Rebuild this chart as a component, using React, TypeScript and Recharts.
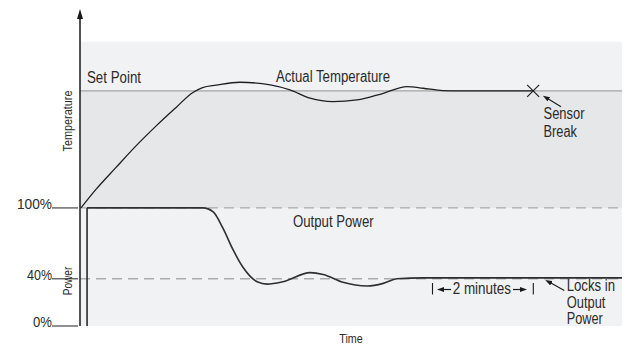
import React from 'react';
import { ComposedChart, Line, XAxis, YAxis, ReferenceArea, ReferenceLine, ReferenceDot } from 'recharts';

// time axis is in minutes from power-on
const tempTimes = [0.02, 0.32, 0.71, 1.11, 1.51, 1.9, 2.23, 2.43, 2.7, 3.17, 3.77, 4.16, 4.56, 5.01, 5.49, 6.01, 6.48, 6.8, 7.19, 7.53, 8.98];
// actual temperature, % of set point
const tempValues = [0, 16, 34.4, 53, 70.1, 85.7, 98.5, 102.8, 104.9, 107.4, 105.1, 100.9, 93.8, 90.9, 92.3, 98, 103.7, 102.3, 100.3, 100, 100];

const powerTimes = [0.14, 2.44, 2.64, 2.83, 3.03, 3.23, 3.51, 3.71, 4.02, 4.56, 4.82, 5.21, 5.69, 6.01, 6.28, 6.8, 10.74];
// output power, %
const powerValues = [100, 100, 96.6, 83, 64.8, 49.7, 37.5, 35.5, 37.5, 45.2, 43.6, 37, 33.9, 36.1, 40, 40.8, 40.8];

const switchOnTimes = [0.14, 0.14];
const switchOnValues = [0, 100];

const powerTicks = [0, 40, 100];
const setPoint = 100;
const fullPower = 100;
const lockedPower = 40;
const sensorBreakTime = 8.98;
const plotEnd = 10.74;

const tempData = tempTimes.map((t, i) => ({ t, temp: tempValues[i] }));
const powerData = powerTimes.map((t, i) => ({ t, power: powerValues[i] }));
const switchOnData = switchOnTimes.map((t, i) => ({ t, power: switchOnValues[i] }));

const FONT = "'Liberation Sans', Arial, sans-serif";
const INK = '#2b2b2b';

const tickWidths: Record<number, number> = { 0: 19, 40: 25, 100: 35 };

const PowerTick = ({ x, y, payload }: any) => (
  <g>
    <line x1={x - 28} x2={x - 2} y1={y} y2={y} stroke="#555" strokeWidth={1.3} />
    <text
      x={x - 28}
      y={y + 1}
      textAnchor="end"
      fontSize={15}
      fill={INK}
      fontFamily={FONT}
      textLength={tickWidths[payload.value]}
      lengthAdjust="spacingAndGlyphs"
    >
      {`${payload.value}%`}
    </text>
  </g>
);

const SensorCross = ({ cx, cy }: any) => (
  <g stroke="#1f1f1f" strokeWidth={1.2}>
    <line x1={cx - 6} y1={cy - 6} x2={cx + 6} y2={cy + 6} />
    <line x1={cx - 6} y1={cy + 6} x2={cx + 6} y2={cy - 6} />
  </g>
);

const Txt = ({ x, y, w, size = 16, children }: any) => (
  <text x={x} y={y} fontSize={size} fill={INK} fontFamily={FONT} textLength={w} lengthAdjust="spacingAndGlyphs">
    {children}
  </text>
);

const Annotations = () => (
  <svg width={636} height={345} style={{ position: 'absolute', left: 0, top: 0, pointerEvents: 'none' }}>
    <defs>
      <marker id="axisHead" markerUnits="userSpaceOnUse" markerWidth={10} markerHeight={6} refX={0} refY={3} orient="auto-start-reverse" viewBox="0 0 10 6">
        <path d="M0,0 L10,3 L0,6 Z" fill="#1a1a1a" />
      </marker>
      <marker id="axisHeadX" markerUnits="userSpaceOnUse" markerWidth={7} markerHeight={5} refX={0} refY={2.5} orient="auto" viewBox="0 0 7 5">
        <path d="M0,0 L7,2.5 L0,5 Z" fill="#1a1a1a" />
      </marker>
      <marker id="noteHead" markerUnits="userSpaceOnUse" markerWidth={7} markerHeight={5} refX={1} refY={2.5} orient="auto" viewBox="0 0 7 5">
        <path d="M0,0 L7,2.5 L0,5 Z" fill="#1a1a1a" />
      </marker>
    </defs>

    <Txt x={87} y={83} w={54}>Set Point</Txt>
    <Txt x={276} y={82} w={114}>Actual Temperature</Txt>
    <Txt x={293} y={227.3} w={80.6}>Output Power</Txt>

    <Txt x={543.5} y={119.3} w={41}>Sensor</Txt>
    <Txt x={543.5} y={136.7} w={33.4}>Break</Txt>
    <line x1={561} y1={106.7} x2={548} y2={98.8} stroke="#1a1a1a" strokeWidth={1.2} markerEnd="url(#noteHead)" />

    <Txt x={566.7} y={291} w={48.3}>Locks in</Txt>
    <Txt x={566.7} y={307.5} w={38.7}>Output</Txt>
    <Txt x={566.7} y={323.5} w={36}>Power</Txt>
    <line x1={564.3} y1={290.5} x2={550.5} y2={282.8} stroke="#1a1a1a" strokeWidth={1.2} markerEnd="url(#noteHead)" />

    <line x1={432.5} y1={283} x2={432.5} y2={294.5} stroke="#1a1a1a" strokeWidth={1.1} />
    <line x1={451} y1={289.5} x2={443} y2={289.5} stroke="#1a1a1a" strokeWidth={1.2} markerEnd="url(#noteHead)" />
    <Txt x={452.7} y={294.2} w={58.3}>2 minutes</Txt>
    <line x1={513} y1={289.5} x2={521} y2={289.5} stroke="#1a1a1a" strokeWidth={1.2} markerEnd="url(#noteHead)" />
    <line x1={533.3} y1={283} x2={533.3} y2={294.5} stroke="#1a1a1a" strokeWidth={1.1} />

    <Txt x={339.3} y={342.5} w={23.4} size={12.5}>Time</Txt>
    <text transform="translate(72, 121) rotate(-90)" textAnchor="middle" fontSize={12.5} fill={INK} fontFamily={FONT} textLength={61} lengthAdjust="spacingAndGlyphs">
      Temperature
    </text>
    <text transform="translate(71.5, 281) rotate(-90)" textAnchor="middle" fontSize={13} fill={INK} fontFamily={FONT} textLength={28.5} lengthAdjust="spacingAndGlyphs">
      Power
    </text>
  </svg>
);

export default function App() {
  return (
    <div style={{ position: 'absolute', left: 0, top: 0, width: 636, height: 345, background: '#fff' }}>
      <ComposedChart width={636} height={345} margin={{ top: 19, right: 10, bottom: 19, left: 0 }}>
        <XAxis
          dataKey="t"
          type="number"
          domain={[0, 10.82]}
          allowDataOverflow
          height={0}
          tick={false}
          tickLine={false}
          axisLine={{ stroke: '#1a1a1a', strokeWidth: 1.5, markerEnd: 'url(#axisHeadX)' }}
        />
        <YAxis
          yAxisId="power"
          type="number"
          domain={[0, 260]}
          allowDataOverflow
          ticks={powerTicks}
          width={80}
          tickSize={0}
          tickMargin={0}
          tickLine={false}
          tick={<PowerTick />}
          axisLine={{ stroke: '#1a1a1a', strokeWidth: 1.5, markerStart: 'url(#axisHead)' }}
        />
        <YAxis yAxisId="temp" type="number" orientation="right" domain={[-101, 161.5]} allowDataOverflow hide />

        <ReferenceArea yAxisId="power" x1={0} x2={plotEnd} y1={0} y2={fullPower} fill="#f1f2f4" fillOpacity={1} stroke="none" />
        <ReferenceArea yAxisId="temp" x1={0} x2={plotEnd} y1={0} y2={setPoint} fill="#e6e7e9" fillOpacity={1} stroke="none" />
        <ReferenceArea yAxisId="temp" x1={0} x2={plotEnd} y1={setPoint} y2={142} fill="#f1f2f4" fillOpacity={1} stroke="none" />

        <ReferenceLine
          yAxisId="temp"
          segment={[{ x: 0, y: setPoint }, { x: plotEnd, y: setPoint }]}
          stroke="#a3a3a3"
          strokeWidth={1.2}
        />
        <ReferenceLine
          yAxisId="power"
          segment={[{ x: 0, y: fullPower }, { x: plotEnd, y: fullPower }]}
          stroke="#ababab"
          strokeWidth={1.4}
          strokeDasharray="10 6"
        />
        <ReferenceLine
          yAxisId="power"
          segment={[{ x: 0, y: lockedPower }, { x: plotEnd, y: lockedPower }]}
          stroke="#ababab"
          strokeWidth={1.4}
          strokeDasharray="10 6"
        />

        <Line
          yAxisId="temp"
          data={tempData}
          dataKey="temp"
          type="monotone"
          stroke="#1f1f1f"
          strokeWidth={1.3}
          dot={false}
          isAnimationActive={false}
        />
        <Line
          yAxisId="power"
          data={switchOnData}
          dataKey="power"
          type="linear"
          stroke="#2a2a2a"
          strokeWidth={1.6}
          dot={false}
          isAnimationActive={false}
        />
        <Line
          yAxisId="power"
          data={powerData}
          dataKey="power"
          type="monotone"
          stroke="#2f2f2f"
          strokeWidth={1.6}
          dot={false}
          isAnimationActive={false}
        />
        <ReferenceDot yAxisId="temp" x={sensorBreakTime} y={setPoint} r={6} shape={<SensorCross />} />
      </ComposedChart>
      <Annotations />
    </div>
  );
}
